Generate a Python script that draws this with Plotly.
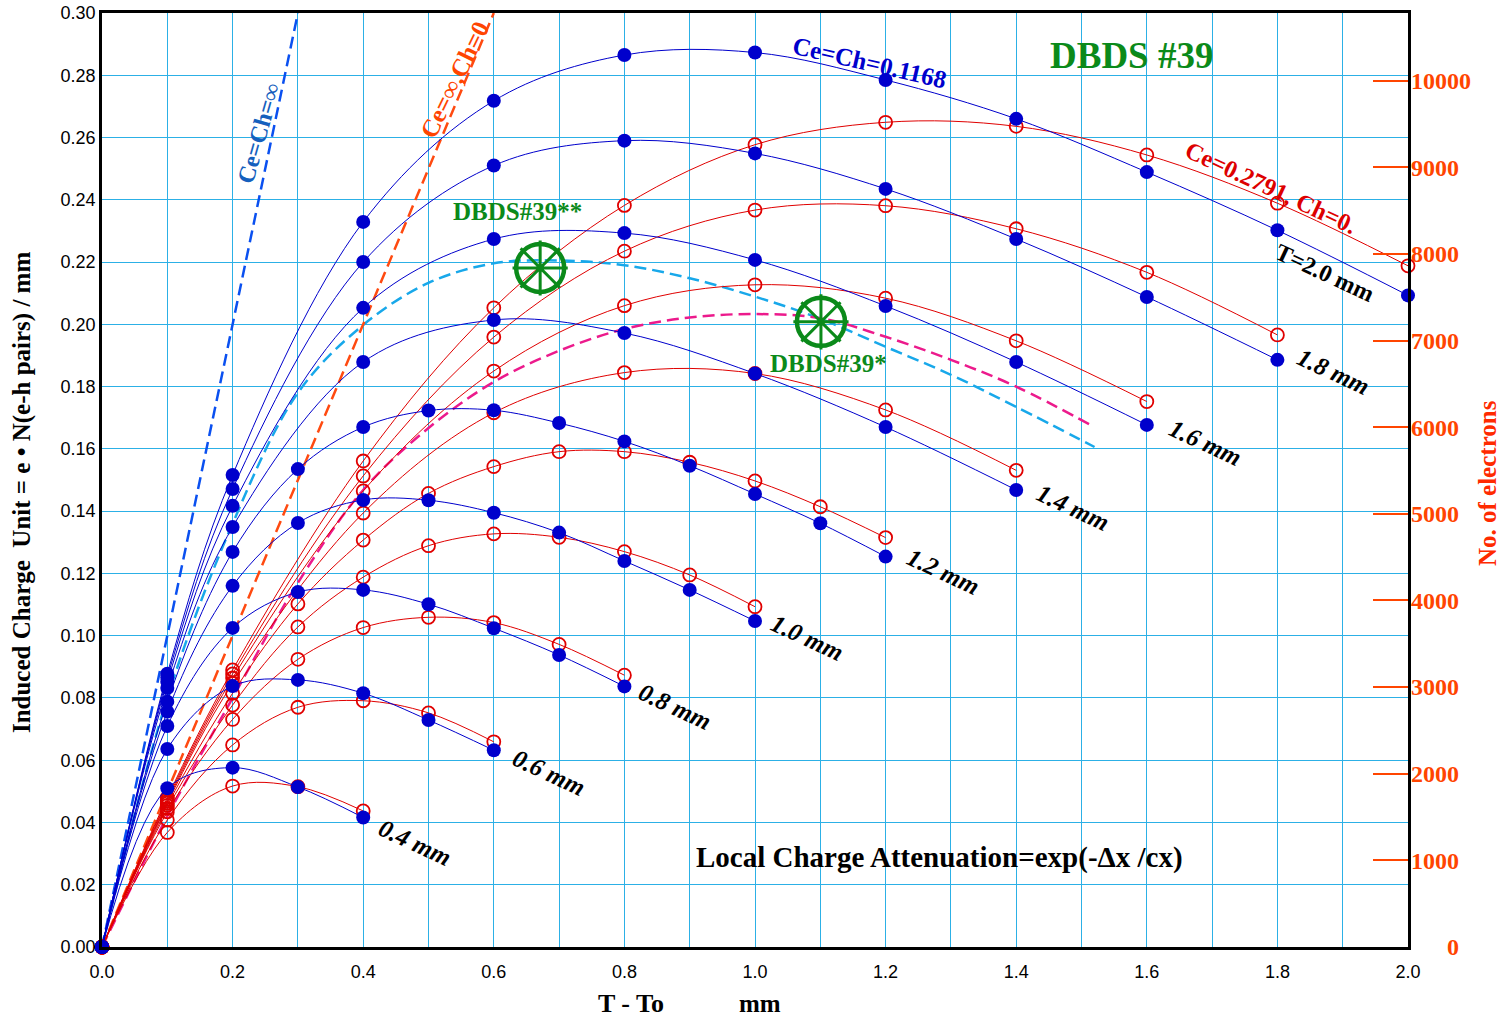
import plotly.graph_objects as go

# ---------------- data ----------------
thickness_labels = ["0.4 mm", "0.6 mm", "0.8 mm", "1.0 mm", "1.2 mm", "1.4 mm", "1.6 mm", "1.8 mm", "T=2.0 mm"]

x_04 = [0.0, 0.1, 0.2, 0.3, 0.4]
x_06 = [0.0, 0.1, 0.2, 0.3, 0.4, 0.5, 0.6]
x_08 = [0.0, 0.1, 0.2, 0.3, 0.4, 0.5, 0.6, 0.7, 0.8]
x_10 = [0.0, 0.1, 0.2, 0.3, 0.4, 0.5, 0.6, 0.7, 0.8, 0.9, 1.0]
x_12 = [0.0, 0.1, 0.2, 0.3, 0.4, 0.5, 0.6, 0.7, 0.8, 0.9, 1.0, 1.1, 1.2]
x_14 = [0.0, 0.1, 0.2, 0.4, 0.6, 0.8, 1.0, 1.2, 1.4]
x_16 = [0.0, 0.1, 0.2, 0.4, 0.6, 0.8, 1.0, 1.2, 1.4, 1.6]
x_18 = [0.0, 0.1, 0.2, 0.4, 0.6, 0.8, 1.0, 1.2, 1.4, 1.6, 1.8]
x_20 = [0.0, 0.1, 0.2, 0.4, 0.6, 0.8, 1.0, 1.2, 1.4, 1.6, 1.8, 2.0]

# Ce=Ch=0.1168 (filled blue dots)
blue_04 = [0, 0.0510, 0.0576, 0.0514, 0.0416]
blue_06 = [0, 0.0636, 0.0838, 0.0858, 0.0815, 0.0729, 0.0632]
blue_08 = [0, 0.0710, 0.1025, 0.1140, 0.1147, 0.1101, 0.1024, 0.0938, 0.0837]
blue_10 = [0, 0.0756, 0.1160, 0.1362, 0.1436, 0.1435, 0.1395, 0.1331, 0.1240, 0.1147, 0.1047]
blue_12 = [0, 0.0788, 0.1269, 0.1535, 0.1670, 0.1723, 0.1724, 0.1683, 0.1624, 0.1546, 0.1455, 0.1361, 0.1254]
blue_14 = [0, 0.0832, 0.1349, 0.1879, 0.2014, 0.1972, 0.1842, 0.1670, 0.1468]
blue_16 = [0, 0.0852, 0.1417, 0.2053, 0.2274, 0.2293, 0.2207, 0.2059, 0.1879, 0.1677]
blue_18 = [0, 0.0866, 0.1471, 0.2200, 0.2510, 0.2590, 0.2549, 0.2435, 0.2274, 0.2088, 0.1886]
blue_20 = [0, 0.0878, 0.1516, 0.2329, 0.2718, 0.2865, 0.2873, 0.2785, 0.2660, 0.2489, 0.2302, 0.2093]

# Ce=0.2791, Ch=0 (open red circles)
red_04 = [0, 0.0368, 0.0517, 0.0515, 0.0437]
red_06 = [0, 0.0408, 0.0649, 0.0770, 0.0791, 0.0752, 0.0659]
red_08 = [0, 0.0434, 0.0731, 0.0924, 0.1026, 0.1059, 0.1042, 0.0972, 0.0873]
red_10 = [0, 0.0445, 0.0777, 0.1028, 0.1188, 0.1289, 0.1327, 0.1316, 0.1270, 0.1195, 0.1093]
red_12 = [0, 0.0455, 0.0815, 0.1102, 0.1307, 0.1457, 0.1543, 0.1591, 0.1591, 0.1557, 0.1497, 0.1414, 0.1315]
red_14 = [0, 0.0462, 0.0847, 0.1394, 0.1716, 0.1845, 0.1842, 0.1725, 0.1531]
red_16 = [0, 0.0468, 0.0864, 0.1465, 0.1850, 0.2060, 0.2127, 0.2084, 0.1947, 0.1752]
red_18 = [0, 0.0474, 0.0877, 0.1513, 0.1959, 0.2235, 0.2367, 0.2381, 0.2307, 0.2167, 0.1966]
red_20 = [0, 0.0480, 0.0890, 0.1561, 0.2053, 0.2382, 0.2577, 0.2649, 0.2636, 0.2544, 0.2389, 0.2188]

# limiting straight lines
inf_x = [0.0, 0.3]
inf_y = [0.0, 0.3]          # Ce=Ch=inf
inf0_x = [0.0, 0.6]
inf0_y = [0.0, 0.3]         # Ce=inf, Ch=0

# DBDS#39** (cyan dashed) and DBDS#39* (magenta dashed)
dbds2_x = [0.0, 0.1, 0.2, 0.3, 0.4, 0.5, 0.6, 0.7, 0.8, 0.9, 1.0, 1.1, 1.2, 1.3, 1.4, 1.52]
dbds2_y = [0.0, 0.080, 0.136, 0.178, 0.1998, 0.2133, 0.2196, 0.2205, 0.2190, 0.2148, 0.2089, 0.2018, 0.1928, 0.1838, 0.1735, 0.1606]
dbds1_x = [0.0, 0.1, 0.2, 0.3, 0.4, 0.5, 0.6, 0.7, 0.8, 0.9, 1.0, 1.1, 1.2, 1.3, 1.4, 1.52]
dbds1_y = [0.0, 0.042, 0.080, 0.117, 0.1468, 0.1667, 0.1815, 0.1915, 0.1985, 0.2022, 0.2033, 0.2020, 0.1960, 0.1886, 0.1800, 0.1670]

# measured points (green wheels)
meas_x = [0.671, 1.101]
meas_y = [0.2181, 0.2008]

right_ticks = [0, 1000, 2000, 3000, 4000, 5000, 6000, 7000, 8000, 9000, 10000]
right_ticktext = ["\u00a0\u00a0\u00a0\u00a0\u00a0\u00a00", "1000", "2000", "3000", "4000", "5000",
                  "6000", "7000", "8000", "9000", "10000"]

# ---------------- styling ----------------
BLUE = "#0000CC"
RED = "#E00000"
GRID = "#2CB0E6"
GREEN = "#0B8A1A"
ORANGE = "#FF4500"
SERIF = "Liberation Serif"
SANS = "Liberation Sans"

xs = [x_04, x_06, x_08, x_10, x_12, x_14, x_16, x_18, x_20]
blues = [blue_04, blue_06, blue_08, blue_10, blue_12, blue_14, blue_16, blue_18, blue_20]
reds = [red_04, red_06, red_08, red_10, red_12, red_14, red_16, red_18, red_20]

fig = go.Figure()

DASH = "12px,6px"
# dashed model curves
fig.add_trace(go.Scatter(x=dbds2_x, y=dbds2_y, mode="lines", line=dict(color="#18A8EA", width=2.5, dash=DASH, shape="spline"), showlegend=False, hoverinfo="skip"))
fig.add_trace(go.Scatter(x=dbds1_x, y=dbds1_y, mode="lines", line=dict(color="#EC1A8C", width=2.5, dash=DASH, shape="spline"), showlegend=False, hoverinfo="skip"))
fig.add_trace(go.Scatter(x=inf_x, y=inf_y, mode="lines", line=dict(color="#0A50F0", width=2.5, dash=DASH), showlegend=False, hoverinfo="skip"))
fig.add_trace(go.Scatter(x=inf0_x, y=inf0_y, mode="lines", line=dict(color="#FF4A10", width=2.5, dash=DASH), showlegend=False, hoverinfo="skip"))

for xv, rv in zip(xs, reds):
    fig.add_trace(go.Scatter(
        x=xv, y=rv, mode="lines+markers", cliponaxis=False,
        line=dict(color=RED, width=1, shape="spline"),
        marker=dict(symbol="circle-open", size=13, color=RED, line=dict(width=1.8, color=RED)),
        showlegend=False, hoverinfo="skip"))

for xv, bv in zip(xs, blues):
    fig.add_trace(go.Scatter(
        x=xv, y=bv, mode="lines+markers", cliponaxis=False,
        line=dict(color=BLUE, width=1, shape="spline"),
        marker=dict(symbol="circle", size=14, color=BLUE),
        showlegend=False, hoverinfo="skip"))

# green wheel markers
fig.add_trace(go.Scatter(x=meas_x, y=meas_y, mode="markers",
                         marker=dict(symbol="circle-open", size=48, color=GREEN, line=dict(width=4.5, color=GREEN)),
                         showlegend=False, hoverinfo="skip"))
fig.add_trace(go.Scatter(x=meas_x, y=meas_y, mode="markers",
                         marker=dict(symbol="asterisk-open", size=46, color=GREEN, line=dict(width=3, color=GREEN)),
                         showlegend=False, hoverinfo="skip"))

# dummy trace for the right axis
fig.add_trace(go.Scatter(x=[0], y=[0], yaxis="y2", mode="markers", marker=dict(opacity=0),
                         showlegend=False, hoverinfo="skip"))

fig.update_layout(
    width=1508, height=1019,
    margin=dict(l=102, r=100, t=13, b=72),
    paper_bgcolor="white", plot_bgcolor="white",
    xaxis=dict(range=[0, 2.0], dtick=0.2, tick0=0, tickformat=".1f", automargin=False,
               showgrid=True, gridcolor=GRID, gridwidth=1.3,
               minor=dict(dtick=0.1, showgrid=True, gridcolor=GRID, gridwidth=1.3),
               showline=True, linecolor="black", linewidth=2.5, mirror=True,
               zeroline=False, ticks="", ticklabelstandoff=7,
               tickfont=dict(family=SANS, size=18, color="black")),
    yaxis=dict(range=[0, 0.30], dtick=0.02, tick0=0, tickformat=".2f", automargin=False,
               showgrid=True, gridcolor=GRID, gridwidth=1.3,
               showline=True, linecolor="black", linewidth=2.5, mirror=True,
               zeroline=False, ticks="", ticklabelstandoff=0,
               tickfont=dict(family=SANS, size=18, color="black")),
    yaxis2=dict(overlaying="y", side="right", range=[0, 10780], automargin=False,
                tickvals=right_ticks, ticktext=right_ticktext,
                ticks="inside", ticklen=35, tickwidth=2, tickcolor=ORANGE,
                showgrid=False, zeroline=False, showline=False, ticklabelstandoff=2,
                tickfont=dict(family=SERIF, size=24, color=ORANGE, weight="bold")),
)

def ann(text, x, y, size, color, angle=0, italic=False, xref="x", yref="y"):
    fig.add_annotation(text=text, x=x, y=y, xref=xref, yref=yref, showarrow=False,
                       textangle=angle, xanchor="center", yanchor="middle",
                       font=dict(family=SERIF, size=size, color=color, weight="bold",
                                 style="italic" if italic else "normal"))

ann("Ce=Ch=∞", 0.2404, 0.2615, 24, "#1560BD", angle=-74)
ann("Ce=∞,Ch=0", 0.5406, 0.2785, 25, ORANGE, angle=-64)
ann("Ce=Ch=0.1168", 1.1746, 0.2840, 25, BLUE, angle=13)
ann("DBDS #39", 1.577, 0.2862, 37, GREEN)
ann("Ce=0.2791, Ch=0.", 1.790, 0.2438, 24.5, "#DD0000", angle=25)

label_pos = [(0.4793, 0.0337), (0.6845, 0.0562), (0.8775, 0.0774), (1.0796, 0.0993),
             (1.288, 0.1205), (1.487, 0.1413), (1.689, 0.1619), (1.885, 0.1847), (1.873, 0.2165)]
for lab, (lx, ly) in zip(thickness_labels, label_pos):
    ann(lab, lx, ly, 25 if not lab.startswith("T=") else 24, "black", angle=25,
        italic=not lab.startswith("T="))

ann("DBDS#39**", 0.637, 0.2361, 25, GREEN)
ann("DBDS#39*", 1.1133, 0.1873, 25, GREEN)
ann("Local Charge Attenuation=exp(-Δx /cx)", 1.2818, 0.0289, 29, "black")

ann("T - To", 0.405, -0.061, 26, "black", xref="paper", yref="paper")
ann("mm", 0.504, -0.061, 25, "black", xref="paper", yref="paper")
ann("Induced Charge  Unit = e • N(e-h pairs) / mm", -0.0613, 0.487, 25, "black", angle=-90, xref="paper", yref="paper")
ann("No. of electrons", 1.0613, 0.4968, 25, "#FF2A00", angle=-90, xref="paper", yref="paper")

fig.write_html("out.html")
